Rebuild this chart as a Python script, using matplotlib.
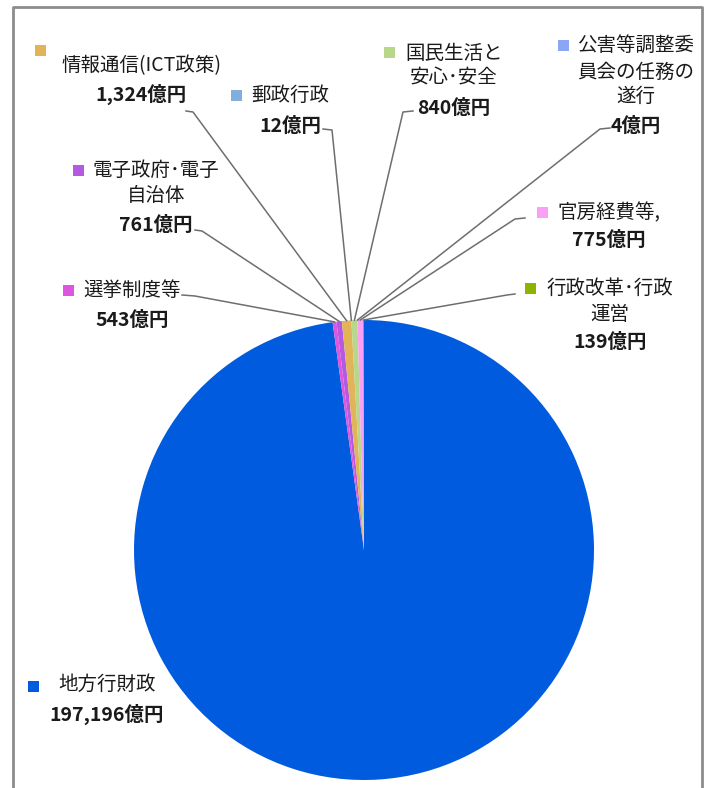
import numpy as np
import matplotlib
matplotlib.use("Agg")
import matplotlib.pyplot as plt
from matplotlib.patches import Rectangle

plt.rcParams['font.family'] = ['Noto Sans CJK JP', 'DejaVu Sans']

# Budget by policy area (億円), in drawing order (clockwise from 12 o'clock)
categories = ["地方行財政", "選挙制度等", "電子政府･電子\n自治体", "情報通信(ICT政策)", "郵政行政",
              "国民生活と\n安心･安全", "公害等調整委\n員会の任務の\n遂行", "官房経費等,", "行政改革･行政\n運営"]
values = [197196, 543, 761, 1324, 12, 840, 4, 775, 139]
colors = ["#005BDE", "#DE55DE", "#B45AE0", "#E2B45A", "#82AEDE",
          "#B6D888", "#8CA6F6", "#F9A0F6", "#8CB400"]

W, H = 704, 788
fig = plt.figure(figsize=(W / 100, H / 100), dpi=100)

# pie geometry in pixels
cx, cy, R = 364, 550, 230
ax = fig.add_axes([(cx - R) / W, (H - cy - R) / H, 2 * R / W, 2 * R / H])
ax.pie(values, colors=colors, startangle=90, counterclock=False,
       wedgeprops=dict(linewidth=0), radius=1.0)
ax.set_xlim(-1, 1)
ax.set_ylim(-1, 1)
ax.set_aspect('equal')
ax.axis('off')

# overlay in pixel coordinates for labels, leaders, frame
ov = fig.add_axes([0, 0, 1, 1], zorder=5)
ov.set_xlim(0, W)
ov.set_ylim(H, 0)
ov.axis('off')

# frame
ov.plot([12.5, 12.5, 702, 702], [H, 6.5, 6.5, H], color="#8C8C8C", lw=2, solid_capstyle='butt')

# mid-angles of each wedge (degrees, standard orientation)
vals = np.array(values, dtype=float)
cum = np.cumsum(vals) / vals.sum() * 360.0
start = np.concatenate([[0], cum[:-1]])
mid = 90 - (start + cum) / 2

# label layout: marker position, text centre x, line ys, value line y, leader anchor (x, y, dx)
layout = [
    dict(mk=(33, 686), tx=107, ty=[684], vy=714, lead=None),
    dict(mk=(68, 290), tx=132, ty=[290], vy=320, lead=(182, 295, 13)),
    dict(mk=(78, 170), tx=156, ty=[170, 195], vy=225, lead=(195, 230, 7)),
    dict(mk=(40, 50), tx=141, ty=[66], vy=94, lead=(186, 111, 7)),
    dict(mk=(236, 95), tx=290, ty=[95], vy=126, lead=(323, 129, 9)),
    dict(mk=(389, 52), tx=454, ty=[53, 78], vy=108, lead=(413, 111, -10)),
    dict(mk=(563, 45), tx=636, ty=[45, 72, 96], vy=126, lead=(610, 128, -10)),
    dict(mk=(542, 212), tx=609, ty=[213], vy=240, lead=(525, 218, -10)),
    dict(mk=(530, 288), tx=610, ty=[288, 314], vy=342, lead=(515, 294, -8)),
]

fs = 14
for i, (name, v, c, L) in enumerate(zip(categories, values, colors, layout)):
    mx, my = L["mk"]
    ov.add_patch(Rectangle((mx - 5.5, my - 5.5), 11, 11, color=c, lw=0))
    for ln, y in zip(name.split("\n"), L["ty"]):
        ov.text(L["tx"], y, ln, ha='center', va='center', fontsize=fs, color="#1A1A1A")
    ov.text(L["tx"], L["vy"], f"{v:,}億円", ha='center', va='center', fontsize=fs,
            fontweight='bold', color="#1A1A1A")
    if L["lead"] is not None:
        lx, ly, dx = L["lead"]
        a = np.deg2rad(mid[i])
        px, py = cx + R * np.cos(a), cy - R * np.sin(a)
        ov.plot([lx, lx + dx, px], [ly, ly + 1, py], color="#6E6E6E", lw=1.1)

fig.savefig("out.png", dpi=100)
